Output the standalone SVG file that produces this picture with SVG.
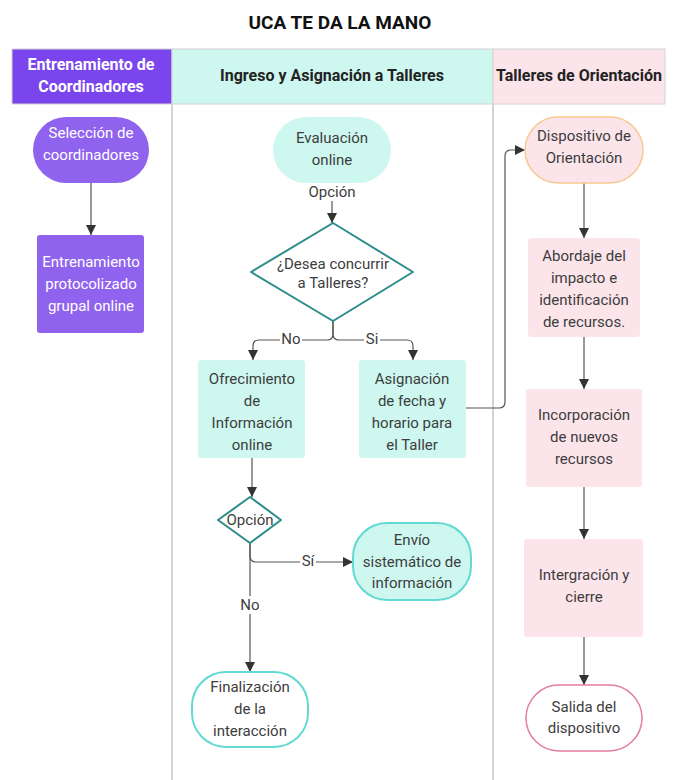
<svg xmlns="http://www.w3.org/2000/svg" width="674" height="780" viewBox="0 0 674 780">
<style>
text{font-family:Roboto,"Liberation Sans",Arial,sans-serif;font-size:15px;fill:#3d3d3d;text-anchor:middle}
.hd{font-weight:bold;font-size:16px;fill:#222}
.wt{fill:#ffffff}
.lane{stroke:#d4d4d4;stroke-width:2;fill:none}
.cn{stroke:#555;stroke-width:1.2;fill:none}
.lbl{fill:#ffffff;stroke:none}
</style>
<defs>
<marker id="ah" markerWidth="10" markerHeight="12" refX="10" refY="5" orient="auto" markerUnits="userSpaceOnUse">
<path d="M0,0 L10,5 L0,10 Z" fill="#333"/>
</marker>
</defs>
<rect width="674" height="780" fill="#ffffff"/>
<text x="340" y="29" style="font-size:19px;font-weight:bold;fill:#111">UCA TE DA LA MANO</text>

<g id="lanes">
<rect x="12" y="49" width="160" height="55" fill="#7a45ec" stroke="#d4d4d4"/>
<rect x="172" y="49" width="321" height="55" fill="#cdf7ef" stroke="#d4d4d4"/>
<rect x="493" y="49" width="172" height="55" fill="#fbe4ea" stroke="#d4d4d4"/>
<text class="hd wt" x="91" y="70">Entrenamiento de</text>
<text class="hd wt" x="91" y="92">Coordinadores</text>
<text class="hd" x="332" y="81">Ingreso y Asignación a Talleres</text>
<text class="hd" x="579" y="81">Talleres de Orientación</text>
<line class="lane" x1="172" y1="104" x2="172" y2="780"/>
<line class="lane" x1="493" y1="104" x2="493" y2="780"/>
</g>

<g id="connectors">
<path class="cn" d="M91,183 V235" marker-end="url(#ah)"/>
<path class="cn" d="M332,183 V223" marker-end="url(#ah)"/>
<rect class="lbl" x="306" y="183" width="52" height="18"/>
<text x="332" y="197">Opción</text>
<path class="cn" d="M333,321 V334 Q333,340 327,340 H259 Q253,340 253,346 V360" marker-end="url(#ah)"/>
<path class="cn" d="M333,321 V334 Q333,340 339,340 H407 Q413,340 413,346 V360" marker-end="url(#ah)"/>
<rect class="lbl" x="280" y="331" width="22" height="17"/>
<text x="291" y="344">No</text>
<rect class="lbl" x="364" y="331" width="16" height="17"/>
<text x="372" y="344">Si</text>
<path class="cn" d="M466,408 H499 Q505,408 505,402 V156 Q505,150 511,150 H525" marker-end="url(#ah)"/>
<path class="cn" d="M252,458 V497" marker-end="url(#ah)"/>
<path class="cn" d="M250,543 V556 Q250,562 256,562 H353" marker-end="url(#ah)"/>
<rect class="lbl" x="300" y="553" width="16" height="17"/>
<text x="308" y="566">Sí</text>
<path class="cn" d="M250,543 V672" marker-end="url(#ah)"/>
<rect class="lbl" x="239" y="596" width="22" height="18"/>
<text x="250" y="610">No</text>
<path class="cn" d="M584,183 V238" marker-end="url(#ah)"/>
<path class="cn" d="M584,337 V389" marker-end="url(#ah)"/>
<path class="cn" d="M584,487 V539" marker-end="url(#ah)"/>
<path class="cn" d="M584,637 V685" marker-end="url(#ah)"/>
</g>

<g id="seleccion">
<rect x="33" y="117" width="116" height="66" rx="33" fill="#9063ef"/>
<text class="wt" x="91" y="138">Selección de</text>
<text class="wt" x="91" y="160">coordinadores</text>
</g>
<g id="entrenamiento">
<rect x="37" y="235" width="107" height="98" rx="3" fill="#9063ef"/>
<text class="wt" x="91" y="267">Entrenamiento</text>
<text class="wt" x="91" y="289">protocolizado</text>
<text class="wt" x="91" y="311">grupal online</text>
</g>

<g id="evaluacion">
<rect x="273" y="117" width="118" height="66" rx="33" fill="#cdf7ef"/>
<text x="332" y="143">Evaluación</text>
<text x="332" y="165">online</text>
</g>
<g id="desea">
<polygon points="333,223 413,272 333,321 251,272" fill="#ffffff" stroke="#2a8d88" stroke-width="2" stroke-linejoin="round"/>
<text x="333" y="269">¿Desea concurrir</text>
<text x="333" y="288">a Talleres?</text>
</g>
<g id="ofrecimiento">
<rect x="198" y="360" width="107" height="98" rx="3" fill="#cdf7ef"/>
<text x="252" y="384">Ofrecimiento</text>
<text x="252" y="406">de</text>
<text x="252" y="428">Información</text>
<text x="252" y="450">online</text>
</g>
<g id="asignacion">
<rect x="359" y="360" width="107" height="98" rx="3" fill="#cdf7ef"/>
<text x="412" y="384">Asignación</text>
<text x="412" y="406">de fecha y</text>
<text x="412" y="428">horario para</text>
<text x="412" y="450">el Taller</text>
</g>
<g id="opcion2">
<polygon points="250,497 281,520 250,543 218,520" fill="#ffffff" stroke="#2a8d88" stroke-width="2" stroke-linejoin="round"/>
<text x="250" y="525">Opción</text>
</g>
<g id="envio">
<rect x="353" y="523" width="118" height="77" rx="34" fill="#cdf7ef" stroke="#62d9d2" stroke-width="2"/>
<text x="412" y="545">Envío</text>
<text x="412" y="567">sistemático de</text>
<text x="412" y="588">información</text>
</g>
<g id="finalizacion">
<rect x="192" y="672" width="116" height="75" rx="34" fill="#ffffff" stroke="#62d9d2" stroke-width="2"/>
<text x="250" y="692">Finalización</text>
<text x="250" y="714">de la</text>
<text x="250" y="736">interacción</text>
</g>

<g id="dispositivo">
<rect x="525" y="117" width="118" height="66" rx="33" fill="#fbe4ea" stroke="#f6c98e" stroke-width="1.5"/>
<text x="584" y="141">Dispositivo de</text>
<text x="584" y="163">Orientación</text>
</g>
<g id="abordaje">
<rect x="528" y="238" width="112" height="99" rx="3" fill="#fbe4ea"/>
<text x="584" y="261">Abordaje del</text>
<text x="584" y="283">impacto e</text>
<text x="584" y="305">identificación</text>
<text x="584" y="327">de recursos.</text>
</g>
<g id="incorporacion">
<rect x="526" y="389" width="116" height="98" rx="3" fill="#fbe4ea"/>
<text x="584" y="420">Incorporación</text>
<text x="584" y="442">de nuevos</text>
<text x="584" y="464">recursos</text>
</g>
<g id="integracion">
<rect x="524" y="539" width="119" height="98" rx="3" fill="#fbe4ea"/>
<text x="584" y="580">Intergración y</text>
<text x="584" y="602">cierre</text>
</g>
<g id="salida">
<rect x="526" y="685" width="116" height="66" rx="33" fill="#ffffff" stroke="#e27d9c" stroke-width="1.5"/>
<text x="584" y="712">Salida del</text>
<text x="584" y="733">dispositivo</text>
</g>
</svg>
